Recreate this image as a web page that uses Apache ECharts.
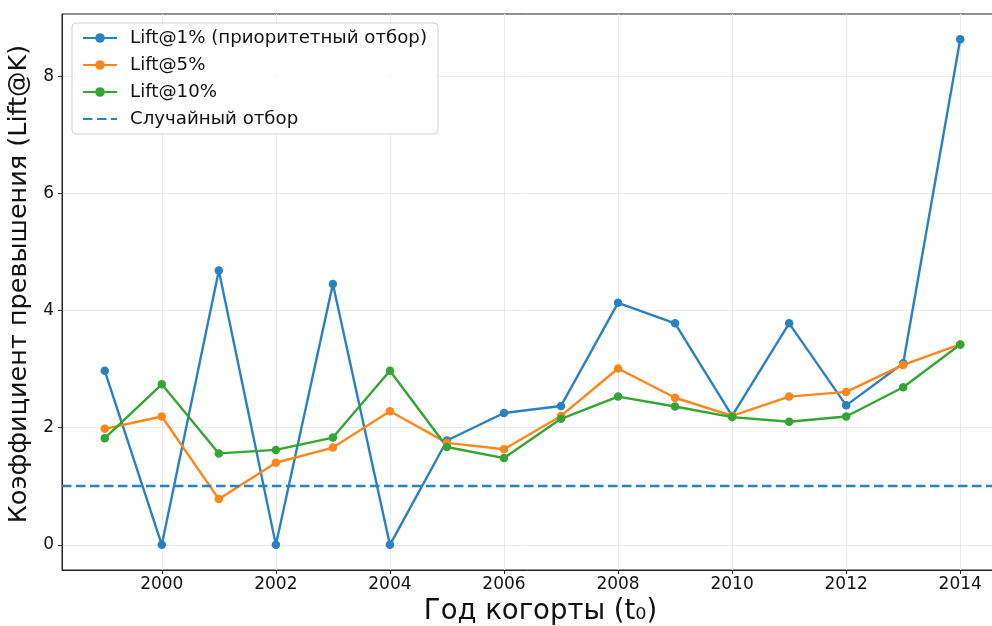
<!DOCTYPE html>
<html><head><meta charset="utf-8">
<script src="https://cdn.jsdelivr.net/npm/echarts@6/dist/echarts.min.js"></script>
<style>html,body{margin:0;padding:0;background:#fff}#c{width:992px;height:626px}</style>
</head><body><div id="c"></div>
<script>
const years = [1999,2000,2001,2002,2003,2004,2005,2006,2007,2008,2009,2010,2011,2012,2013,2014];
const lift1 = [2.97,0,4.68,0,4.45,0,1.78,2.25,2.37,4.13,3.78,2.2,3.78,2.38,3.1,8.63];
const lift5 = [1.98,2.19,0.78,1.4,1.66,2.28,1.74,1.63,2.2,3.01,2.51,2.2,2.53,2.61,3.07,3.42];
const lift10 = [1.82,2.74,1.56,1.62,1.83,2.97,1.67,1.48,2.15,2.53,2.36,2.18,2.1,2.19,2.69,3.42];
const baseline = 1;
const xTicks = [2000,2002,2004,2006,2008,2010,2012,2014];
const yTicks = [0,2,4,6,8];
const names = ['Lift@1% (приоритетный отбор)','Lift@5%','Lift@10%','Случайный отбор'];
const colors = ['#2a81bf','#ff861a','#33a532'];
const font = 'DejaVu Sans';

const chart = echarts.init(document.getElementById('c'), null, {renderer:'canvas'});
function mk(name, vals, color){
  return {
    name, type:'line', data: years.map((y,i)=>[y, vals[i]]),
    symbol:'circle', symbolSize:8.5, showSymbol:true,
    itemStyle:{color}, lineStyle:{color, width:2.4},
    emphasis:{disabled:true}
  };
}
chart.setOption({
  animation:false,
  backgroundColor:'#fff',
  grid:{left:62, top:14, right:-11, bottom:56, outerBoundsMode:'none', containLabel:false,
        show:true, borderColor:'#222', borderWidth:1, backgroundColor:'transparent'},
  legend:{
    orient:'vertical', left:72, top:23, itemGap:9, itemWidth:34, itemHeight:12,
    backgroundColor:'rgba(255,255,255,0.85)', borderColor:'#d0d0d0', borderWidth:1, borderRadius:4,
    padding:[6,11,6,10],
    textStyle:{fontFamily:font, fontSize:18.2, color:'#111', padding:[0,0,0,8]},
    data:[names[0], names[1], names[2], {name:names[3], itemStyle:{opacity:0}}]
  },
  xAxis:{
    type:'value', min:1998.25, max:2014.75,
    name:'Год когорты (t₀)', nameLocation:'middle', nameGap:27,
    nameTextStyle:{fontFamily:font, fontSize:27.5, color:'#111', padding:[0,0,0,16]},
    axisLine:{show:true, onZero:false, lineStyle:{color:'#222', width:1}},
    axisTick:{show:true, length:4, customValues:xTicks, lineStyle:{color:'#222'}},
    axisLabel:{customValues:xTicks, fontFamily:font, fontSize:17, color:'#111', margin:6, formatter:v=>String(v)},
    splitLine:{show:true, lineStyle:{color:'#ebebeb', width:1}}
  },
  yAxis:{
    type:'value', min:-0.43, max:9.06,
    name:'Коэффициент превышения (Lift@K)', nameLocation:'middle', nameGap:26,
    nameTextStyle:{fontFamily:font, fontSize:25.5, color:'#111', padding:[0,0,0,16]},
    axisLine:{show:true, onZero:false, lineStyle:{color:'#222', width:1}},
    axisTick:{show:true, length:4, customValues:yTicks, lineStyle:{color:'#222'}},
    axisLabel:{customValues:yTicks, fontFamily:font, fontSize:17, color:'#111', margin:8},
    splitLine:{show:true, lineStyle:{color:'#ebebeb', width:1}}
  },
  series:[
    mk(names[0], lift1, colors[0]),
    mk(names[1], lift5, colors[1]),
    mk(names[2], lift10, colors[2]),
    {
      name:names[3], type:'line', data:[], symbol:'none',
      itemStyle:{color:colors[0]}, lineStyle:{color:colors[0], width:2.4, type:[9.5,4.5]},
      markLine:{silent:true, symbol:'none', label:{show:false},
        lineStyle:{color:colors[0], width:2.4, type:[9.5,4.5]},
        data:[{yAxis:baseline}]}
    }
  ]
});
</script></body></html>
